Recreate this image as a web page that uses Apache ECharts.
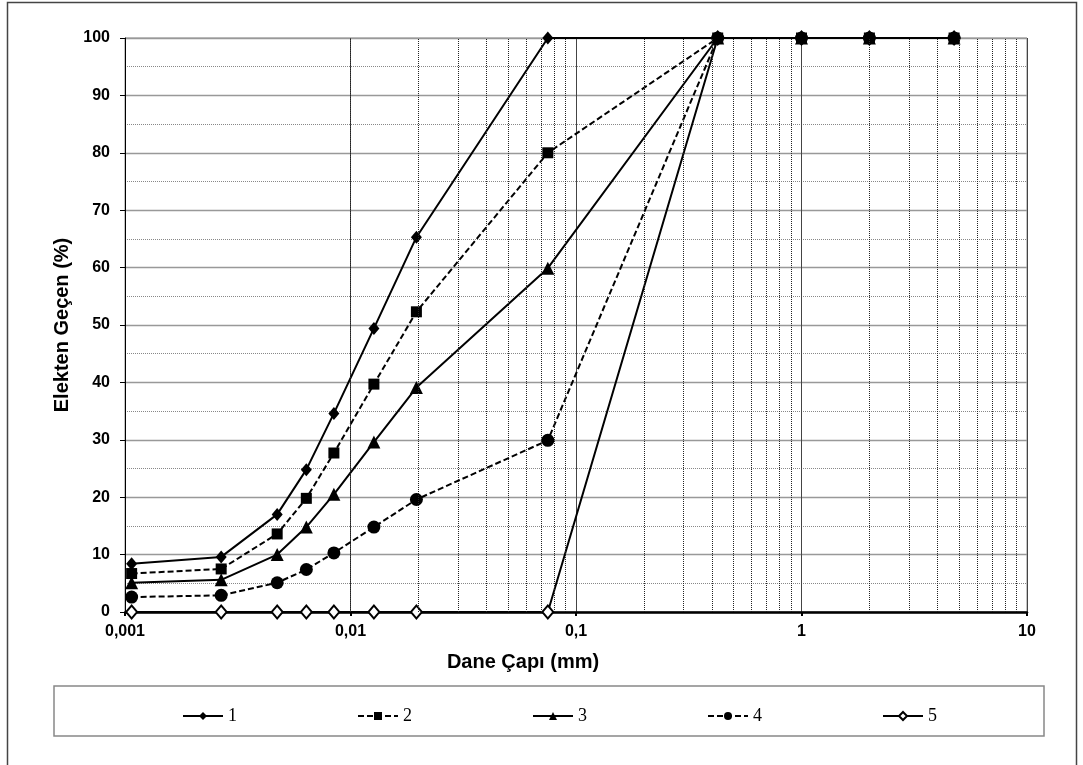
<!DOCTYPE html>
<html>
<head>
<meta charset="utf-8">
<script src="https://cdn.jsdelivr.net/npm/echarts@6/dist/echarts.min.js"></script>
<style>
  html, body { margin: 0; padding: 0; background: #fff; }
  #chart { width: 1083px; height: 765px; }
</style>
</head>
<body>
<div id="chart"></div>
<script>
// Grain size distribution curves (hydrometer + sieve analysis)
const grainSizes = [0.00107, 0.00267, 0.00473, 0.00637, 0.00844, 0.0127, 0.0196, 0.075, 0.425, 1, 2, 4.75];
const passing1 = [8.4, 9.6, 17.0, 24.8, 34.6, 49.4, 65.3, 100, 100, 100, 100, 100];
const passing2 = [6.7, 7.5, 13.6, 19.8, 27.7, 39.7, 52.3, 80, 100, 100, 100, 100];
const passing3 = [5.1, 5.6, 10.0, 14.8, 20.5, 29.6, 39.1, 59.9, 100, 100, 100, 100];
const passing4 = [2.6, 2.9, 5.1, 7.4, 10.3, 14.8, 19.6, 29.9, 100, 100, 100, 100];
const passing5 = [0, 0, 0, 0, 0, 0, 0, 0, 100, 100, 100, 100];
const seriesNames = ['1', '2', '3', '4', '5'];
const xTickLabels = ['0,001', '0,01', '0,1', '1', '10'];
const minorGridX = [
  0.002, 0.003, 0.004, 0.005, 0.006, 0.007, 0.008, 0.009,
  0.02, 0.03, 0.04, 0.05, 0.06, 0.07, 0.08, 0.09,
  0.2, 0.3, 0.4, 0.5, 0.6, 0.7, 0.8, 0.9,
  2, 3, 4, 5, 6, 7, 8, 9
];

const pairs = (ys) => grainSizes.map((x, i) => [x, ys[i]]);

const chart = echarts.init(document.getElementById('chart'), null, { renderer: 'canvas' });

function makeSeries(name, ys, symbol, size, dashed, extra) {
  return Object.assign({
    name: name,
    type: 'line',
    data: pairs(ys),
    symbol: symbol,
    symbolSize: size,
    clip: false,
    z: 3,
    lineStyle: { color: '#000', width: 2, type: dashed ? [6, 3] : 'solid' },
    itemStyle: { color: '#000' },
    emphasis: { disabled: true },
    animation: false
  }, extra || {});
}

const option = {
  backgroundColor: '#fff',
  animation: false,
  grid: {
    left: 125, right: 56, top: 38, bottom: 153,
    show: true, borderColor: '#888', borderWidth: 1
  },
  xAxis: {
    type: 'log',
    logBase: 10,
    min: 0.001,
    max: 10,
    axisLine: { show: true, onZero: false, lineStyle: { color: '#000', width: 2.5 } },
    axisTick: { show: true, length: 4, lineStyle: { color: '#000', width: 2 } },
    axisLabel: {
      margin: 12,
      color: '#000',
      fontFamily: 'Liberation Sans',
      fontWeight: 'bold',
      fontSize: 16,
      formatter: (v) => xTickLabels[Math.round(Math.log10(v)) + 3]
    },
    splitLine: { show: true, lineStyle: { color: '#444', width: 1 } }
  },
  yAxis: {
    type: 'value',
    min: 0,
    max: 100,
    interval: 10,
    axisLine: { show: true, lineStyle: { color: '#000', width: 1 } },
    axisTick: { show: true, length: 5, lineStyle: { color: '#000' } },
    axisLabel: {
      margin: 15,
      color: '#000',
      fontFamily: 'Liberation Sans',
      fontWeight: 'bold',
      fontSize: 16
    },
    splitLine: { show: true, lineStyle: { color: '#999', width: 1.3 } },
    minorTick: { show: false, splitNumber: 2 },
    minorSplitLine: { show: true, lineStyle: { color: '#888', type: 'dotted', width: 1 } }
  },
  legend: {
    left: 177,
    top: 702,
    itemWidth: 40,
    itemHeight: 10,
    itemGap: 120,
    textStyle: { fontFamily: 'Liberation Serif', fontSize: 18, color: '#000' },
    data: seriesNames,
    selectedMode: false
  },
  series: [
    // minor logarithmic gridlines
    {
      type: 'line',
      data: [],
      silent: true,
      z: 1,
      markLine: {
        silent: true,
        symbol: ['none', 'none'],
        label: { show: false },
        lineStyle: { color: '#222', type: 'dotted', width: 1 },
        animation: false,
        data: minorGridX.map((v) => ({ xAxis: v }))
      }
    },
    makeSeries(seriesNames[0], passing1, 'diamond', [11, 13], false),
    makeSeries(seriesNames[1], passing2, 'rect', 11, true),
    makeSeries(seriesNames[2], passing3, 'triangle', 13, false),
    makeSeries(seriesNames[3], passing4, 'circle', 13, true),
    makeSeries(seriesNames[4], passing5, 'diamond', [11, 13], false, {
      z: 2,
      itemStyle: { color: '#fff', borderColor: '#000', borderWidth: 2 }
    })
  ],
  graphic: [
    {
      type: 'rect',
      shape: { x: 7.5, y: 2.5, width: 1069, height: 800 },
      style: { fill: 'none', stroke: '#444', lineWidth: 1.5 },
      silent: true
    },
    {
      type: 'rect',
      shape: { x: 54, y: 686, width: 990, height: 50 },
      style: { fill: 'none', stroke: '#888', lineWidth: 1.5 },
      silent: true,
      z: -1
    },
    {
      type: 'text',
      x: 523,
      y: 662,
      style: {
        text: 'Dane Çapı (mm)',
        fontFamily: 'Liberation Sans',
        fontWeight: 'bold',
        fontSize: 20,
        fill: '#000',
        align: 'center',
        verticalAlign: 'middle'
      }
    },
    {
      type: 'text',
      x: 62,
      y: 325,
      rotation: Math.PI / 2,
      style: {
        text: 'Elekten Geçen (%)',
        fontFamily: 'Liberation Sans',
        fontWeight: 'bold',
        fontSize: 20,
        fill: '#000',
        align: 'center',
        verticalAlign: 'middle'
      }
    }
  ]
};

chart.setOption(option);
</script>
</body>
</html>
